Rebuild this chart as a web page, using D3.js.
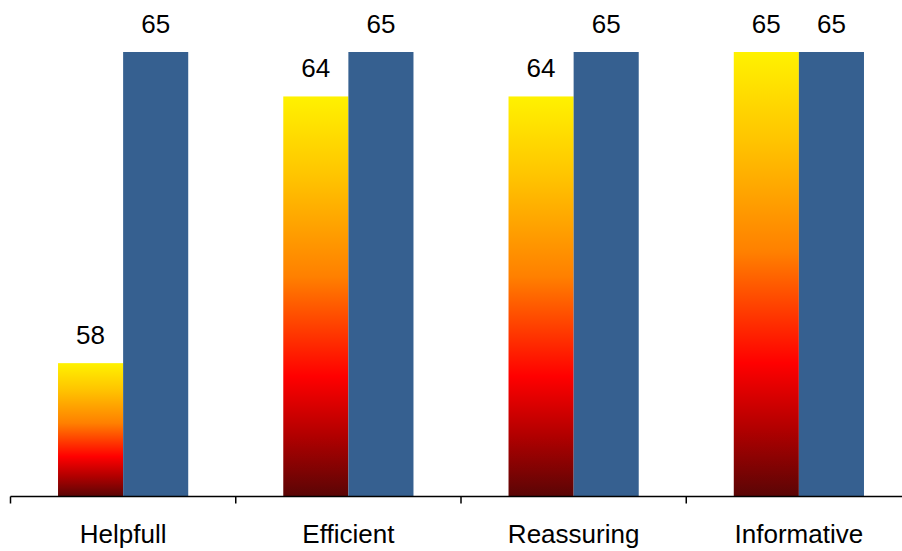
<!DOCTYPE html>
<html>
<head>
<meta charset="utf-8">
<script src="https://cdn.jsdelivr.net/npm/d3@7"></script>
<style>
  html, body { margin: 0; padding: 0; background: #fff; }
  svg { display: block; font-family: "Liberation Sans", Arial, sans-serif; }
</style>
</head>
<body>
<svg id="chart" width="902" height="551"></svg>
<script>
// Chart data
const categories = ["Helpfull", "Efficient", "Reassuring", "Informative"];
const seriesA = [58, 64, 64, 65];   // gradient bars
const seriesB = [65, 65, 65, 65];   // blue bars
const seriesNames = ["A", "B"];

const svg = d3.select("#chart");
const baseY = 496.5;

const x = d3.scaleBand()
  .domain(categories)
  .range([10.5, 911.5])
  .paddingInner(0)
  .paddingOuter(0);

const xSub = d3.scaleBand()
  .domain(seriesNames)
  .range([0, x.bandwidth()])
  .paddingInner(0)
  .paddingOuter(0.73);

const y = d3.scaleLinear()
  .domain([55, 65])
  .range([baseY, 52]);

// Vertical warm gradient (yellow top -> dark red bottom), per bar
const defs = svg.append("defs");
const grad = defs.append("linearGradient")
  .attr("id", "warm")
  .attr("x1", 0).attr("y1", 0).attr("x2", 0).attr("y2", 1);
[
  [0, "#fff200"],
  [0.2, "#ffc400"],
  [0.45, "#ff8000"],
  [0.7, "#ff0000"],
  [0.85, "#b00000"],
  [1, "#5a0505"]
].forEach(([o, c]) => grad.append("stop").attr("offset", o).attr("stop-color", c));

const g = svg.append("g");

const groups = g.selectAll("g.cat")
  .data(categories)
  .join("g")
  .attr("class", "cat")
  .attr("transform", d => `translate(${x(d)},0)`);

groups.append("rect")
  .attr("x", xSub("A"))
  .attr("width", xSub.bandwidth())
  .attr("y", (d, i) => y(seriesA[i]))
  .attr("height", (d, i) => baseY - y(seriesA[i]))
  .attr("fill", "url(#warm)");

groups.append("rect")
  .attr("x", xSub("B"))
  .attr("width", xSub.bandwidth())
  .attr("y", (d, i) => y(seriesB[i]))
  .attr("height", (d, i) => baseY - y(seriesB[i]))
  .attr("fill", "#366090");

// Value labels
const labelStyle = sel => sel
  .attr("text-anchor", "middle")
  .attr("font-size", 26)
  .attr("fill", "#000");

groups.append("text")
  .attr("x", xSub("A") + xSub.bandwidth() / 2)
  .attr("y", (d, i) => y(seriesA[i]) - 19)
  .text((d, i) => seriesA[i])
  .call(labelStyle);

groups.append("text")
  .attr("x", xSub("B") + xSub.bandwidth() / 2)
  .attr("y", (d, i) => y(seriesB[i]) - 19)
  .text((d, i) => seriesB[i])
  .call(labelStyle);

// Category axis
const axis = d3.axisBottom(x).tickSize(0).tickPadding(0);
const ax = svg.append("g")
  .attr("transform", `translate(0,${baseY})`)
  .call(axis);
ax.select(".domain").remove();
ax.selectAll(".tick text").remove();

ax.append("line")
  .attr("x1", 10.5).attr("x2", 911.5)
  .attr("y1", 0).attr("y2", 0)
  .attr("stroke", "#000").attr("stroke-width", 1.5);

const boundaries = categories.map(c => x(c)).concat([x.range()[1]]);
ax.selectAll("line.sep")
  .data(boundaries)
  .join("line")
  .attr("class", "sep")
  .attr("x1", d => d).attr("x2", d => d)
  .attr("y1", 0).attr("y2", 7)
  .attr("stroke", "#000").attr("stroke-width", 1.5);

ax.selectAll("text.cat")
  .data(categories)
  .join("text")
  .attr("class", "cat")
  .attr("x", d => x(d) + x.bandwidth() / 2)
  .attr("y", 46)
  .attr("text-anchor", "middle")
  .attr("font-size", 26)
  .attr("fill", "#000")
  .text(d => d);
</script>
</body>
</html>
